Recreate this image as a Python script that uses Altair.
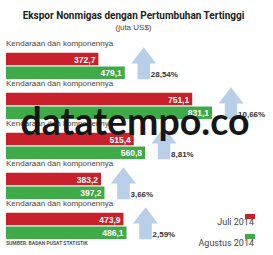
import altair as alt
import pandas as pd

# ---- data ----
categories = ["Kendaraan dan komponennya"] * 5
juli = [372.7, 751.1, 515.4, 383.2, 473.9]
agustus = [479.1, 831.1, 560.8, 397.2, 486.1]
growth = [28.54, 10.66, 8.81, 3.66, 2.59]
series = ["Juli 2014", "Agustus 2014"]
colors = ["#c8212b", "#3fab48"]
title_text = "Ekspor Nonmigas dengan Pertumbuhan Tertinggi"
subtitle_text = "(juta US$)"
source_text = "SUMBER: BADAN PUSAT STATISTIK"
watermark_text = "datatempo.co"

groups = [f"g{i}" for i in range(len(categories))]
rows = ["cat"] + series


def fmt(v, d=1):
    return f"{v:.{d}f}".replace(".", ",")


bars = pd.DataFrame(
    [
        {"group": g, "row": s, "value": v, "label": fmt(v)}
        for g, j, a in zip(groups, juli, agustus)
        for s, v in zip(series, [j, a])
    ]
)
grp = pd.DataFrame(
    {
        "group": groups,
        "category": categories,
        "agustus": agustus,
        "growth": [fmt(g, 2) + "%" for g in growth],
        "catrow": ["cat"] * len(groups),
        "agrow": [series[1]] * len(groups),
    }
)

SANS = "Liberation Sans, Arial, sans-serif"
COND = "Roboto, Liberation Sans, sans-serif"

xs = alt.Scale(domain=[0, 1077], nice=False, zero=True)
ys = alt.Scale(domain=groups, paddingInner=0, paddingOuter=0)
yos = alt.Scale(domain=rows, paddingInner=0.1, paddingOuter=0)

bar_layer = alt.Chart(bars).mark_bar().encode(
    x=alt.X("value:Q", scale=xs, axis=None),
    y=alt.Y("group:N", scale=ys, axis=None),
    yOffset=alt.YOffset("row:N", scale=yos),
    color=alt.Color("row:N", scale=alt.Scale(domain=series, range=colors), legend=None),
)

val_layer = alt.Chart(bars).mark_text(
    align="right", baseline="middle", dx=-3, dy=0.5, color="white",
    fontWeight="bold", fontSize=8.5, font=SANS,
).encode(
    x=alt.X("value:Q", scale=xs, axis=None),
    y=alt.Y("group:N", scale=ys, axis=None),
    yOffset=alt.YOffset("row:N", scale=yos),
    text="label:N",
)

cat_layer = alt.Chart(grp).mark_text(
    align="left", baseline="middle", dy=-1, color="#444444", fontSize=8, font=SANS,
).encode(
    x=alt.value(0),
    y=alt.Y("group:N", scale=ys, axis=None),
    yOffset=alt.YOffset("catrow:N", scale=yos),
    text="category:N",
)

arrow_path = "M0,-0.95 L1,0.35 L0.5,0.35 L0.5,1.62 L-0.5,1.62 L-0.5,0.35 L-1,0.35 Z"
arrow_layer = alt.Chart(grp).mark_point(
    shape=arrow_path, size=625, filled=True, color="#b9cfe8", opacity=1,
    strokeWidth=0, xOffset=19,
).encode(
    x=alt.X("agustus:Q", scale=xs, axis=None),
    y=alt.Y("group:N", scale=ys, axis=None),
)

pct_layer = alt.Chart(grp).mark_text(
    align="left", baseline="middle", dx=26, dy=2, color="#333333",
    fontWeight="bold", fontSize=8, font=SANS,
).encode(
    x=alt.X("agustus:Q", scale=xs, axis=None),
    y=alt.Y("group:N", scale=ys, axis=None),
    yOffset=alt.YOffset("agrow:N", scale=yos),
    text="growth:N",
)

note = pd.DataFrame({"t": [source_text]})
src_layer = alt.Chart(note).mark_text(
    align="left", baseline="alphabetic", color="#555555", fontSize=5,
    fontWeight="bold", font=COND,
).encode(x=alt.value(0), y=alt.value(206), text="t:N")

leg = pd.DataFrame({"s": series, "c": colors})
leg_rect_j = alt.Chart(leg.iloc[[0]]).mark_rect(color=colors[0]).encode(
    x=alt.value(239), x2=alt.value(249), y=alt.value(175), y2=alt.value(180)
)
leg_rect_a = alt.Chart(leg.iloc[[1]]).mark_rect(color=colors[1]).encode(
    x=alt.value(239), x2=alt.value(249), y=alt.value(195), y2=alt.value(200)
)
leg_txt_j = alt.Chart(leg.iloc[[0]]).mark_text(
    align="right", baseline="alphabetic", color="#444444", fontSize=9, font=COND
).encode(x=alt.value(248), y=alt.value(186), text="s:N")
leg_txt_a = alt.Chart(leg.iloc[[1]]).mark_text(
    align="right", baseline="alphabetic", color="#444444", fontSize=9, font=COND
).encode(x=alt.value(248), y=alt.value(207), text="s:N")

wm = pd.DataFrame({"t": [watermark_text]})
wm_layer = alt.Chart(wm).mark_text(
    align="center", baseline="alphabetic", color="#161616", fontSize=37.5,
    fontWeight="bold", font="Lato, sans-serif",
).encode(x=alt.value(129), y=alt.value(96), text="t:N")

chart = alt.layer(
    bar_layer, val_layer, cat_layer, arrow_layer, pct_layer, src_layer,
    leg_rect_j, leg_rect_a, leg_txt_j, leg_txt_a, wm_layer,
).properties(
    width=267,
    height=200,
    title=alt.TitleParams(
        text=title_text, subtitle=subtitle_text, anchor="middle", dx=-6,
        font=COND, fontSize=10, fontWeight="bold", color="#222222",
        subtitleFont=SANS, subtitleFontSize=8, subtitleColor="#444444",
        subtitlePadding=3, offset=7,
    ),
    autosize=alt.AutoSizeParams(type="none"),
    padding={"left": 6, "top": 39, "right": 0, "bottom": 16},
    background="white",
).configure_view(stroke=None)

chart.save("out.html", embed_options={"renderer": "svg", "actions": False})
